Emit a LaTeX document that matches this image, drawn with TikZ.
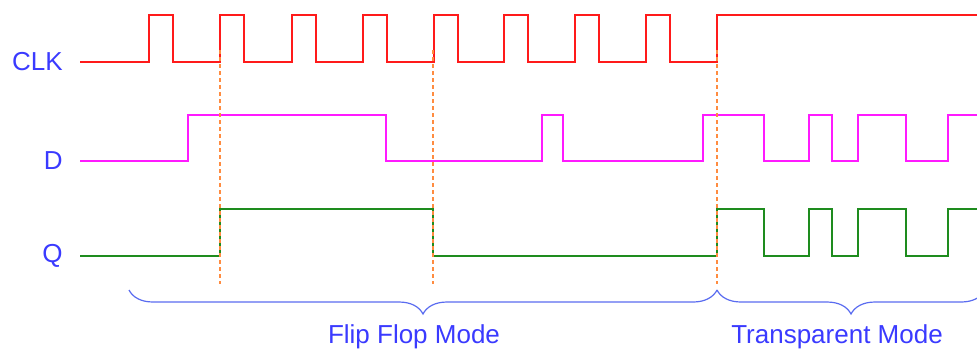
\documentclass[tikz,border=0pt]{standalone}
\usepackage{fontspec}
\setmainfont{Liberation Sans}
\usetikzlibrary{decorations.pathreplacing}

\definecolor{labelblue}{HTML}{3A3AFF}
\definecolor{braceblue}{HTML}{5A6CF0}
\definecolor{clkred}{HTML}{FF1A1A}
\definecolor{dpink}{HTML}{FF1AFF}
\definecolor{qgreen}{HTML}{1E8C1E}
\definecolor{guideorange}{HTML}{FF8C40}

\begin{document}
\begin{tikzpicture}[
    x=0.5pt, y=-0.5pt,
    signame/.style={anchor=east, text=labelblue, inner sep=0pt,
                font=\fontsize{13}{15}\selectfont},
    modename/.style={text=labelblue, inner sep=0pt,
                font=\fontsize{13}{15}\selectfont},
    wave/.style={line width=1.1pt, line join=miter},
    guide/.style={guideorange, line width=0.6pt, dash pattern=on 2pt off 1.5pt},
    modebrace/.style={braceblue, line width=0.6pt,
                decorate, decoration={brace, mirror, amplitude=12pt}}
]
\useasboundingbox (0,0) rectangle (977,355);

\node[signame] (clk) at (63,62) {CLK};
\node[signame] (d) at (63,161) {D};
\node[signame] (q) at (63,256) {Q};

% clock: eight pulses, then held high
\draw[wave, clkred] (80,62)
    \foreach \x in {149,220,292,363,434,504,575,646} {
        -- (\x,62) -- (\x,15) -- ({\x+24},15) -- ({\x+24},62)}
    -- (717,62) -- (717,15) -- (977,15);

% data input
\draw[wave, dpink] (80,161) -| (188,115) -| (386,161) -| (542,115)
    -| (563,161) -| (703,115) -| (764,161) -| (809,115) -| (832,161)
    -| (858,115) -| (906,161) -| (948,115) -- (977,115);

% output
\draw[wave, qgreen] (80,256) -| (220,209) -| (433,256) -| (717,209)
    -| (764,256) -| (809,209) -| (832,256) -| (858,209) -| (906,256)
    -| (948,209) -- (977,209);

\foreach \x in {220,433,717}
    \draw[guide] (\x,50) -- (\x,284);

\coordinate (ffstart) at (129,290);
\coordinate (modesplit) at (717,290);
\coordinate (trend) at (985,290);
\draw[modebrace] (ffstart) -- (modesplit);
\draw[modebrace] (modesplit) -- (trend);

\node[modename] (ffmode) at (414,337) {Flip Flop Mode};
\node[modename] (trmode) at (837,337) {Transparent Mode};

\end{tikzpicture}
\end{document}
